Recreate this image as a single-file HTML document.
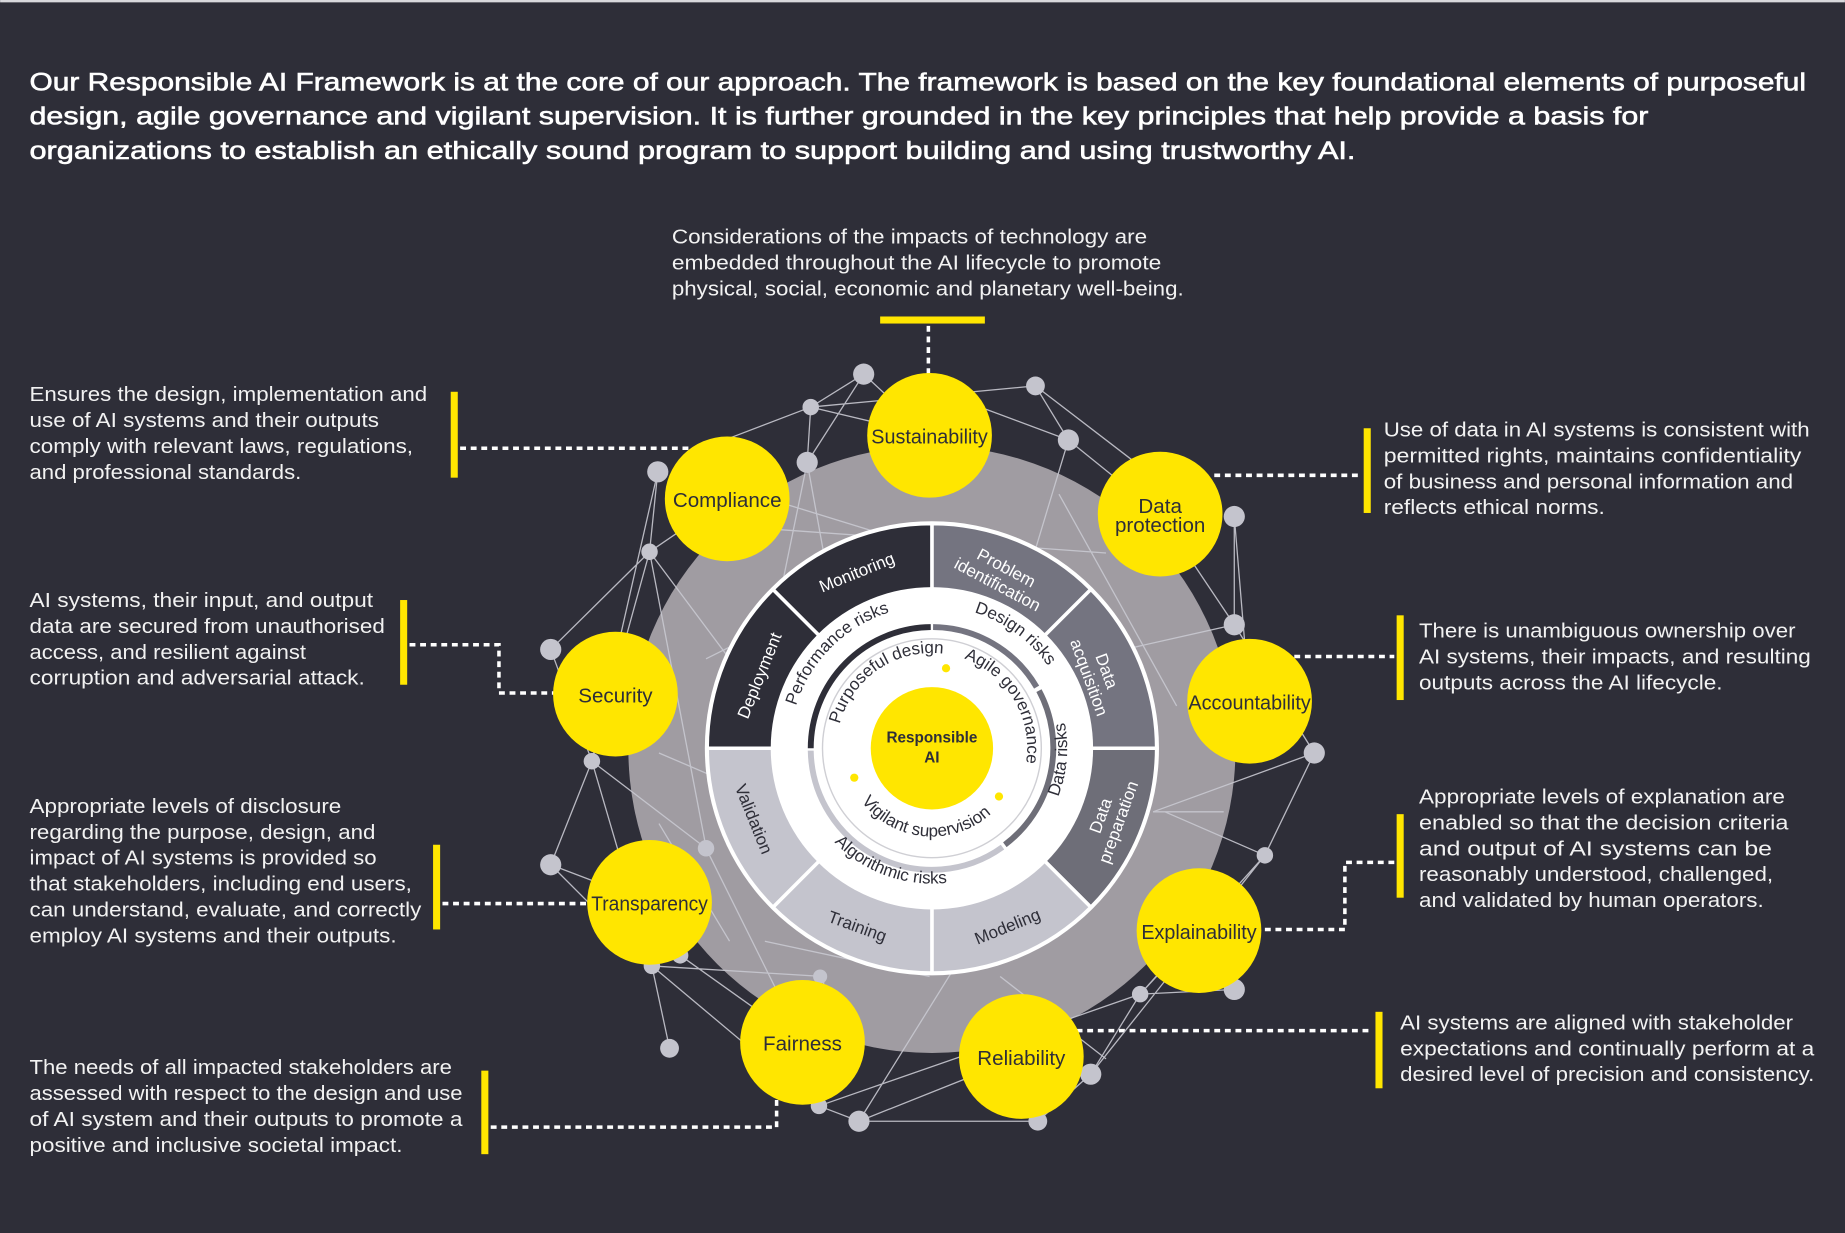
<!DOCTYPE html>
<html><head><meta charset="utf-8"><style>
html,body{margin:0;padding:0;background:#2e2e38;}
svg{display:block;}
text{font-family:"Liberation Sans",sans-serif;}
</style></head><body>
<svg width="1845" height="1233" viewBox="0 0 1568 1048" xmlns="http://www.w3.org/2000/svg">
<rect width="1568" height="1048" fill="#2e2e38"/>
<rect width="1568" height="2" fill="#d8d8dc"/>
<g fill="#ffffff" font-size="21.5" stroke="#ffffff" stroke-width="0.5">
<text x="25" y="77" textLength="1510" lengthAdjust="spacingAndGlyphs">Our Responsible AI Framework is at the core of our approach. The framework is based on the key foundational elements of purposeful</text>
<text x="25" y="106" textLength="1376" lengthAdjust="spacingAndGlyphs">design, agile governance and vigilant supervision. It is further grounded in the  key principles that help provide a basis for</text>
<text x="25" y="135" textLength="1127" lengthAdjust="spacingAndGlyphs">organizations to establish an ethically sound program to support building and using  trustworthy AI.</text>
</g>
<g fill="#f2f2f2" font-size="17.5">
<text x="571" y="207" textLength="404" lengthAdjust="spacingAndGlyphs">Considerations of the impacts of technology are</text>
<text x="571" y="229" textLength="416" lengthAdjust="spacingAndGlyphs">embedded throughout the AI lifecycle to promote</text>
<text x="571" y="251" textLength="435" lengthAdjust="spacingAndGlyphs">physical, social, economic and planetary well-being.</text>
<text x="25" y="341" textLength="338" lengthAdjust="spacingAndGlyphs">Ensures the design, implementation and</text>
<text x="25" y="363" textLength="297" lengthAdjust="spacingAndGlyphs">use of AI systems and their outputs</text>
<text x="25" y="385" textLength="326" lengthAdjust="spacingAndGlyphs">comply with relevant laws, regulations,</text>
<text x="25" y="407" textLength="231" lengthAdjust="spacingAndGlyphs">and professional standards.</text>
<text x="25" y="516" textLength="292" lengthAdjust="spacingAndGlyphs">AI systems, their input, and output</text>
<text x="25" y="538" textLength="302" lengthAdjust="spacingAndGlyphs">data are secured from unauthorised</text>
<text x="25" y="560" textLength="235" lengthAdjust="spacingAndGlyphs">access, and resilient against</text>
<text x="25" y="582" textLength="285" lengthAdjust="spacingAndGlyphs">corruption and adversarial attack.</text>
<text x="25" y="691" textLength="265" lengthAdjust="spacingAndGlyphs">Appropriate levels of disclosure</text>
<text x="25" y="713" textLength="294" lengthAdjust="spacingAndGlyphs">regarding the purpose, design, and</text>
<text x="25" y="735" textLength="295" lengthAdjust="spacingAndGlyphs">impact of AI systems is provided so</text>
<text x="25" y="757" textLength="325" lengthAdjust="spacingAndGlyphs">that stakeholders, including end users,</text>
<text x="25" y="779" textLength="333" lengthAdjust="spacingAndGlyphs">can understand, evaluate, and correctly</text>
<text x="25" y="801" textLength="312" lengthAdjust="spacingAndGlyphs">employ AI systems and their outputs.</text>
<text x="25" y="913" textLength="359" lengthAdjust="spacingAndGlyphs">The needs of all impacted stakeholders are</text>
<text x="25" y="935" textLength="368" lengthAdjust="spacingAndGlyphs">assessed with respect to the design and use</text>
<text x="25" y="957" textLength="368" lengthAdjust="spacingAndGlyphs">of AI system and their outputs to promote a</text>
<text x="25" y="979" textLength="317" lengthAdjust="spacingAndGlyphs">positive and inclusive societal impact.</text>
<text x="1176" y="371" textLength="362" lengthAdjust="spacingAndGlyphs">Use of data in AI systems is consistent with</text>
<text x="1176" y="393" textLength="355" lengthAdjust="spacingAndGlyphs">permitted rights, maintains confidentiality</text>
<text x="1176" y="415" textLength="348" lengthAdjust="spacingAndGlyphs">of business and personal information and</text>
<text x="1176" y="437" textLength="188" lengthAdjust="spacingAndGlyphs">reflects ethical norms.</text>
<text x="1206" y="542" textLength="320" lengthAdjust="spacingAndGlyphs">There is unambiguous ownership over</text>
<text x="1206" y="564" textLength="333" lengthAdjust="spacingAndGlyphs">AI systems, their impacts, and resulting</text>
<text x="1206" y="586" textLength="258" lengthAdjust="spacingAndGlyphs">outputs across the AI lifecycle.</text>
<text x="1206" y="683" textLength="311" lengthAdjust="spacingAndGlyphs">Appropriate levels of explanation are</text>
<text x="1206" y="705" textLength="314" lengthAdjust="spacingAndGlyphs">enabled so that the decision criteria</text>
<text x="1206" y="727" textLength="300" lengthAdjust="spacingAndGlyphs">and output of AI systems can be</text>
<text x="1206" y="749" textLength="301" lengthAdjust="spacingAndGlyphs">reasonably understood, challenged,</text>
<text x="1206" y="771" textLength="293" lengthAdjust="spacingAndGlyphs">and validated by human operators.</text>
<text x="1190" y="875" textLength="334" lengthAdjust="spacingAndGlyphs">AI systems are aligned with stakeholder</text>
<text x="1190" y="897" textLength="352" lengthAdjust="spacingAndGlyphs">expectations and continually perform at a</text>
<text x="1190" y="919" textLength="352" lengthAdjust="spacingAndGlyphs">desired level of precision and consistency.</text>
</g>
<g fill="#ffe600">
<rect x="748" y="269" width="89" height="6"/>
<rect x="383" y="333" width="6" height="73"/>
<rect x="340" y="510" width="6" height="72"/>
<rect x="368" y="718" width="6" height="72"/>
<rect x="409" y="910" width="6" height="71"/>
<rect x="1159" y="364" width="6" height="72"/>
<rect x="1187" y="523" width="6" height="72"/>
<rect x="1187" y="692" width="6" height="71"/>
<rect x="1169" y="860" width="6" height="65"/>
</g>
<g fill="none" stroke="#ffffff" stroke-width="3" stroke-dasharray="5,4">
<path d="M789 277 V318"/>
<path d="M391 381 H585"/>
<path d="M348 548 H424 V589 H472"/>
<path d="M376 768 H500"/>
<path d="M417 958 H660 V935"/>
<path d="M1032 404 H1157"/>
<path d="M1100 558 H1185"/>
<path d="M1185 733 H1143 V790 H1072"/>
<path d="M915 876 H1167"/>
</g>
<circle cx="792" cy="637" r="258" fill="#a09ca2"/>
<g stroke="#c9c9d1" stroke-width="1.1" fill="none" opacity="0.9">
<path d="M734 318 L689 346 L686 393 M734 318 L686 393 M689 346 L600 380 M689 346 L790 370 M689 346 L880 328 M734 318 L790 370 M880 328 L908 374 L790 330 M880 328 L1000 420 M908 374 L986 437 M908 374 L870 500 M686 393 L660 520 M686 393 L700 470"/>
<path d="M559 401 L552 469 L468 552 M559 401 L503 647 M552 469 L503 647 M552 469 L618 424 M552 469 L620 560 M552 469 L600 720 M468 552 L503 647 L468 735 M503 647 L554 821 M503 647 L600 721 M468 735 L554 821 L569 891 M468 735 L552 767"/>
<path d="M554 821 L696 940 M554 821 L700 830 M578 812 L682 886 M600 721 L682 886 M696 940 L730 953 L882 953 M730 953 L868 898 M696 940 L969 845 M730 953 L850 760 M882 953 L927 913 M927 913 L969 845 L1049 841 M969 845 L1075 727 M969 845 L1019 791 M927 913 L1075 727 M1075 727 L1117 640 L1049 531 M1049 531 L1049 439 M1049 531 L986 437 M1049 439 L1062 596 M1117 640 L980 690 M1049 531 L920 560 M1075 727 L990 690"/>
<path d="M640 420 L900 500 M660 450 L940 470 M600 560 L760 480 M560 640 L700 700 M560 700 L620 800 M650 800 L790 830 M850 830 L940 900 M980 690 L1040 690 M1000 600 L900 420 M700 830 L700 940"/>
</g>
<g fill="#c4c4cd">
<circle cx="734" cy="318" r="9"/><circle cx="689" cy="346" r="7"/><circle cx="686" cy="393" r="9"/>
<circle cx="880" cy="328" r="8"/><circle cx="908" cy="374" r="9"/><circle cx="559" cy="401" r="9"/>
<circle cx="552" cy="469" r="7"/><circle cx="468" cy="552" r="9"/><circle cx="503" cy="647" r="7"/>
<circle cx="468" cy="735" r="9"/><circle cx="600" cy="721" r="7"/><circle cx="554" cy="821" r="7"/>
<circle cx="578" cy="812" r="7"/><circle cx="569" cy="891" r="8"/><circle cx="696" cy="940" r="7"/>
<circle cx="730" cy="953" r="9"/><circle cx="882" cy="953" r="8"/><circle cx="927" cy="913" r="9"/>
<circle cx="969" cy="845" r="7"/><circle cx="1049" cy="841" r="9"/><circle cx="1075" cy="727" r="7"/>
<circle cx="1117" cy="640" r="9"/><circle cx="1049" cy="531" r="9"/><circle cx="1049" cy="439" r="9"/>
<circle cx="697" cy="830" r="6"/>
</g>
<circle cx="792" cy="636" r="193" fill="#ffffff"/>
<g stroke="#ffffff" stroke-width="3">
<path d="M792 636 L792 445 A191 191 0 0 1 927.1 500.9 Z" fill="#747480"/>
<path d="M792 636 L927.1 500.9 A191 191 0 0 1 983 636 Z" fill="#747480"/>
<path d="M792 636 L983 636 A191 191 0 0 1 927.1 771.1 Z" fill="#6e6e78"/>
<path d="M792 636 L927.1 771.1 A191 191 0 0 1 792 827 Z" fill="#c4c4cd"/>
<path d="M792 636 L792 827 A191 191 0 0 1 656.9 771.1 Z" fill="#c4c4cd"/>
<path d="M792 636 L656.9 771.1 A191 191 0 0 1 601 636 Z" fill="#c4c4cd"/>
<path d="M792 636 L601 636 A191 191 0 0 1 656.9 500.9 Z" fill="#2e2e38"/>
<path d="M792 636 L656.9 500.9 A191 191 0 0 1 792 445 Z" fill="#2e2e38"/>
</g>
<circle cx="792" cy="636" r="137" fill="#ffffff"/>
<g font-size="14.5" text-anchor="middle">
<text transform="translate(730,491) rotate(-22)" fill="#ffffff">Monitoring</text>
<text transform="translate(853,487) rotate(28)" fill="#ffffff">Problem<tspan x="0" dy="16">identification</tspan></text>
<text transform="translate(936,572) rotate(70)" fill="#ffffff">Data<tspan x="0" dy="16">acquisition</tspan></text>
<text transform="translate(940,695) rotate(-70)" fill="#ffffff">Data<tspan x="0" dy="16">preparation</tspan></text>
<text transform="translate(858,792) rotate(-22)" fill="#2e2e38">Modeling</text>
<text transform="translate(727,792) rotate(20)" fill="#2e2e38">Training</text>
<text transform="translate(636,698) rotate(68)" fill="#2e2e38">Validation</text>
<text transform="translate(650,576) rotate(-68)" fill="#ffffff">Deployment</text>
</g>
<defs>
<path id="cw120" d="M671 636 A121 121 0 1 1 913 636 A121 121 0 1 1 671 636"/>
<path id="ccw120" d="M677 636 A115 115 0 1 0 907 636 A115 115 0 1 0 677 636"/>
<path id="cw80" d="M711 636 A81 81 0 1 1 873 636 A81 81 0 1 1 711 636"/>
<path id="ccw80" d="M717 636 A75 75 0 1 0 867 636 A75 75 0 1 0 717 636"/>
</defs>
<g fill="none" stroke-width="5">
<path d="M689 636 A103 103 0 0 1 791 533" stroke="#2e2e38"/>
<path d="M793 533 A103 103 0 0 1 881 584" stroke="#747480"/>
<path d="M883 587 A103 103 0 0 1 854 718" stroke="#6e6e78"/>
<path d="M852 720 A103 103 0 0 1 689 638" stroke="#c4c4cd"/>
</g>
<circle cx="792" cy="636" r="93" fill="none" stroke="#cfcfd4" stroke-width="1.2"/>
<g fill="#ffe600">
<circle cx="804" cy="568" r="3.5"/><circle cx="849" cy="677" r="3.5"/><circle cx="726" cy="661" r="3.5"/>
<circle cx="792" cy="636" r="52"/>
</g>
<g font-size="14.5" fill="#2e2e38" text-anchor="middle">
<text><textPath href="#cw120" startOffset="12.5%">Performance risks</textPath></text>
<text><textPath href="#cw120" startOffset="35%">Design risks</textPath></text>
<text><textPath href="#ccw120" startOffset="48.6%">Data risks</textPath></text>
<text><textPath href="#ccw120" startOffset="19.5%">Algorithmic risks</textPath></text>
<text><textPath href="#cw80" startOffset="15.5%">Purposeful design</textPath></text>
<text><textPath href="#cw80" startOffset="41.5%">Agile governance</textPath></text>
<text><textPath href="#ccw80" startOffset="23.5%">Vigilant supervision</textPath></text>
</g>
<text x="792" y="631" font-size="13" font-weight="bold" fill="#2e2e38" text-anchor="middle">Responsible</text>
<text x="792" y="648" font-size="13" font-weight="bold" fill="#2e2e38" text-anchor="middle">AI</text>
<g fill="#ffe600">
<circle cx="790" cy="370" r="53"/><circle cx="618" cy="424" r="53"/><circle cx="986" cy="437" r="53"/>
<circle cx="523" cy="590" r="53"/><circle cx="1062" cy="596" r="53"/><circle cx="552" cy="767" r="53"/>
<circle cx="1019" cy="791" r="53"/><circle cx="682" cy="886" r="53"/><circle cx="868" cy="898" r="53"/>
</g>
<g font-size="17.5" fill="#2e2e38" text-anchor="middle">
<text x="790" y="377" textLength="99" lengthAdjust="spacingAndGlyphs">Sustainability</text>
<text x="618" y="431">Compliance</text>
<text x="986" y="436">Data</text>
<text x="986" y="452">protection</text>
<text x="523" y="597">Security</text>
<text x="1062" y="603" textLength="104" lengthAdjust="spacingAndGlyphs">Accountability</text>
<text x="552" y="774" textLength="99" lengthAdjust="spacingAndGlyphs">Transparency</text>
<text x="1019" y="798" textLength="98" lengthAdjust="spacingAndGlyphs">Explainability</text>
<text x="682" y="893">Fairness</text>
<text x="868" y="905">Reliability</text>
</g>
</svg>
</body></html>
